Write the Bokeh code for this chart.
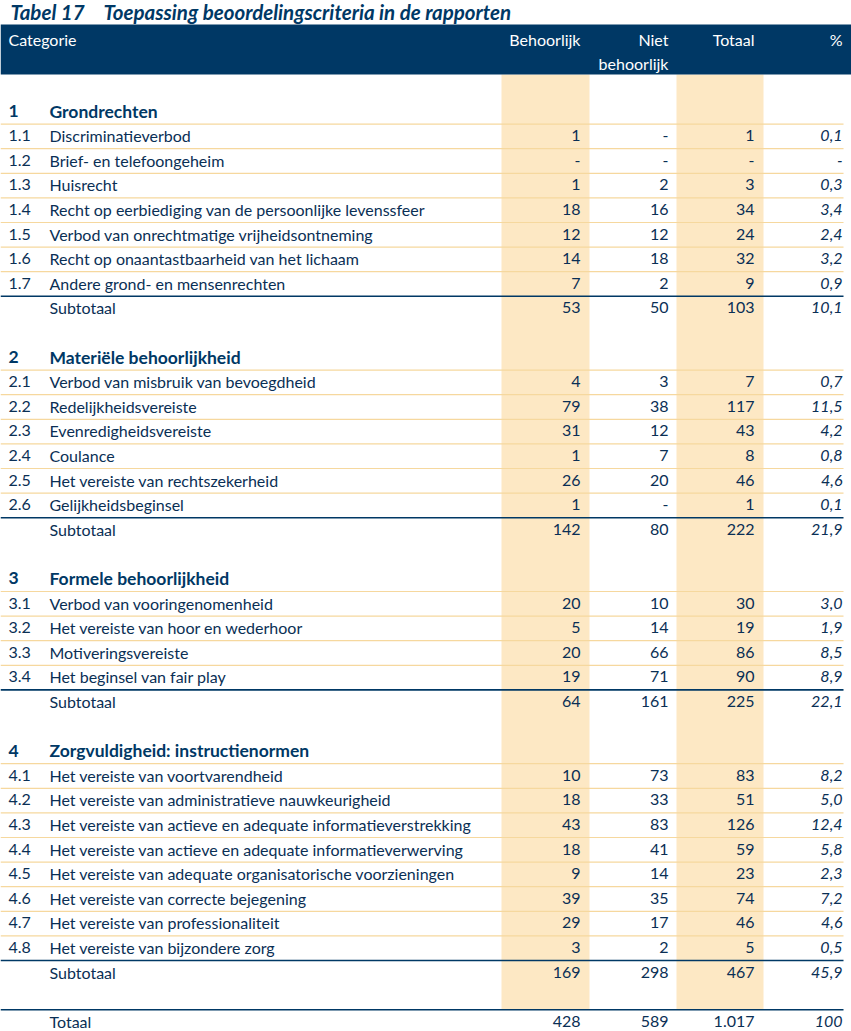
from bokeh.plotting import figure
from bokeh.models import Range1d
from bokeh.core.properties import value
from bokeh.embed import file_html
from bokeh.resources import INLINE

# ---------------- data ----------------
title_num = "Tabel 17"
title_text = "Toepassing beoordelingscriteria in de rapporten"
col_headers = ["Behoorlijk", "Niet", "Totaal", "%"]
section_nums = ["1", "2", "3", "4"]
section_titles = ["Grondrechten", "Materiële behoorlijkheid",
                  "Formele behoorlijkheid", "Zorgvuldigheid: instructienormen"]
item_section = [0]*7 + [1]*6 + [2]*4 + [3]*8
codes = ["1.1", "1.2", "1.3", "1.4", "1.5", "1.6", "1.7",
         "2.1", "2.2", "2.3", "2.4", "2.5", "2.6",
         "3.1", "3.2", "3.3", "3.4",
         "4.1", "4.2", "4.3", "4.4", "4.5", "4.6", "4.7", "4.8"]
labels = ["Discriminatieverbod", "Brief- en telefoongeheim", "Huisrecht",
          "Recht op eerbiediging van de persoonlijke levenssfeer",
          "Verbod van onrechtmatige vrijheidsontneming",
          "Recht op onaantastbaarheid van het lichaam",
          "Andere grond- en mensenrechten",
          "Verbod van misbruik van bevoegdheid", "Redelijkheidsvereiste",
          "Evenredigheidsvereiste", "Coulance",
          "Het vereiste van rechtszekerheid", "Gelijkheidsbeginsel",
          "Verbod van vooringenomenheid", "Het vereiste van hoor en wederhoor",
          "Motiveringsvereiste", "Het beginsel van fair play",
          "Het vereiste van voortvarendheid",
          "Het vereiste van administratieve nauwkeurigheid",
          "Het vereiste van actieve en adequate informatieverstrekking",
          "Het vereiste van actieve en adequate informatieverwerving",
          "Het vereiste van adequate organisatorische voorzieningen",
          "Het vereiste van correcte bejegening",
          "Het vereiste van professionaliteit",
          "Het vereiste van bijzondere zorg"]
behoorlijk = [1, None, 1, 18, 12, 14, 7,
              4, 79, 31, 1, 26, 1,
              20, 5, 20, 19,
              10, 18, 43, 18, 9, 39, 29, 3]
niet_behoorlijk = [None, None, 2, 16, 12, 18, 2,
                   3, 38, 12, 7, 20, None,
                   10, 14, 66, 71,
                   73, 33, 83, 41, 14, 35, 17, 2]
totaal = [1, None, 3, 34, 24, 32, 9,
          7, 117, 43, 8, 46, 1,
          30, 19, 86, 90,
          83, 51, 126, 59, 23, 74, 46, 5]
percent = [0.1, None, 0.3, 3.4, 2.4, 3.2, 0.9,
           0.7, 11.5, 4.2, 0.8, 4.6, 0.1,
           3.0, 1.9, 8.5, 8.9,
           8.2, 5.0, 12.4, 5.8, 2.3, 7.2, 4.6, 0.5]
sub_behoorlijk = [53, 142, 64, 169]
sub_niet = [50, 80, 161, 298]
sub_totaal = [103, 222, 225, 467]
sub_percent = [10.1, 21.9, 22.1, 45.9]
grand = [428, 589, 1017, 100]

# ---------------- styling ----------------
NAVY = "#003865"
TEXT = "#0a2f55"
HILITE = "#fde8c4"
RULE = "#f6d89e"
FONT = value("Lato")
FS = "16px"

def fmt_int(v):
    return "-" if v is None else f"{v:,}".replace(",", ".")

def fmt_pct(v):
    if v is None:
        return "-"
    if v == int(v) and v >= 100:
        return str(int(v))
    return f"{v:.1f}".replace(".", ",")

# ---------------- layout rows ----------------
Y0, DY = 110.5, 24.6
rows = []
for s in range(len(section_titles)):
    rows.append(("section", s))
    for i, sec in enumerate(item_section):
        if sec == s:
            rows.append(("item", i))
    rows.append(("sub", s))
    rows.append(("blank", None))
rows.append(("total", None))

NUM_X = [580, 668, 754, 842]

code_x, code_y, code_t = [], [], []
lab_x, lab_y, lab_t = [], [], []
bold_x, bold_y, bold_t = [], [], []
num_x, num_y, num_t = [], [], []
pct_x, pct_y, pct_t = [], [], []
rule_y, dark_y = [], []

for r, (kind, k) in enumerate(rows):
    y = Y0 + r * DY
    if kind == "section":
        bold_x += [8, 49]; bold_y += [y, y]
        bold_t += [section_nums[k], section_titles[k]]
    elif kind == "item":
        code_x.append(8); code_y.append(y); code_t.append(codes[k])
        lab_x.append(49); lab_y.append(y); lab_t.append(labels[k])
        vals = [behoorlijk[k], niet_behoorlijk[k], totaal[k]]
        for c in range(3):
            num_x.append(NUM_X[c]); num_y.append(y); num_t.append(fmt_int(vals[c]))
        pct_x.append(NUM_X[3]); pct_y.append(y); pct_t.append(fmt_pct(percent[k]))
        rule_y.append(y - 11.5)
    elif kind in ("sub", "total"):
        if kind == "sub":
            vals = [sub_behoorlijk[k], sub_niet[k], sub_totaal[k]]
            pv = sub_percent[k]
            lab_t.append("Subtotaal")
        else:
            vals = grand[:3]
            pv = grand[3]
            lab_t.append("Totaal")
        lab_x.append(49); lab_y.append(y)
        for c in range(3):
            num_x.append(NUM_X[c]); num_y.append(y); num_t.append(fmt_int(vals[c]))
        pct_x.append(NUM_X[3]); pct_y.append(y); pct_t.append(fmt_pct(pv))
        dark_y.append(y - 11.5)

total_line = dark_y[-1]

# ---------------- figure ----------------
W, H = 851, 1031
p = figure(width=W, height=H, x_range=Range1d(0, W), y_range=Range1d(H, 0),
           output_backend="svg", toolbar_location=None, min_border=0)
p.axis.visible = False
p.grid.visible = False
p.outline_line_color = None
p.background_fill_color = "white"
p.border_fill_color = "white"

# highlighted columns
p.quad(left=[501, 676], right=[589, 763], top=[74, 74], bottom=[total_line, total_line],
       fill_color=HILITE, line_color=None)

# header band
p.quad(left=[0], right=[851], top=[24], bottom=[74], fill_color=NAVY, line_color=None)

# rules
p.segment(x0=[0]*len(rule_y), x1=[843]*len(rule_y), y0=rule_y, y1=rule_y,
          line_color=RULE, line_width=1.2)
p.segment(x0=[0]*len(dark_y), x1=[843]*len(dark_y), y0=dark_y, y1=dark_y,
          line_color=NAVY, line_width=1.6)

# title
p.text(x=[10, 103], y=[11, 11], text=[title_num, title_text], text_font=FONT,
       text_font_size="20.5px", text_font_style="bold italic", text_color=NAVY,
       text_baseline="middle")

# header texts
p.text(x=[8], y=[39], text=["Categorie"], text_font=FONT, text_font_size=FS,
       text_color="white", text_baseline="middle")
p.text(x=NUM_X, y=[39]*4, text=col_headers, text_font=FONT, text_font_size=FS,
       text_color="white", text_baseline="middle", text_align="right")
p.text(x=[NUM_X[1]], y=[63], text=["behoorlijk"], text_font=FONT, text_font_size=FS,
       text_color="white", text_baseline="middle", text_align="right")

# body texts
p.text(x=bold_x, y=bold_y, text=bold_t, text_font=FONT, text_font_size="17.5px",
       text_font_style="bold", text_color=NAVY, text_baseline="middle")
p.text(x=code_x, y=code_y, text=code_t, text_font=FONT, text_font_size=FS,
       text_color=TEXT, text_baseline="middle")
p.text(x=lab_x, y=lab_y, text=lab_t, text_font=FONT, text_font_size=FS,
       text_color=TEXT, text_baseline="middle")
p.text(x=num_x, y=num_y, text=num_t, text_font=FONT, text_font_size=FS,
       text_color=TEXT, text_baseline="middle", text_align="right")
p.text(x=pct_x, y=pct_y, text=pct_t, text_font=FONT, text_font_size=FS,
       text_font_style="italic", text_color=TEXT, text_baseline="middle", text_align="right")

open("out.html", "w").write(file_html(p, INLINE))
